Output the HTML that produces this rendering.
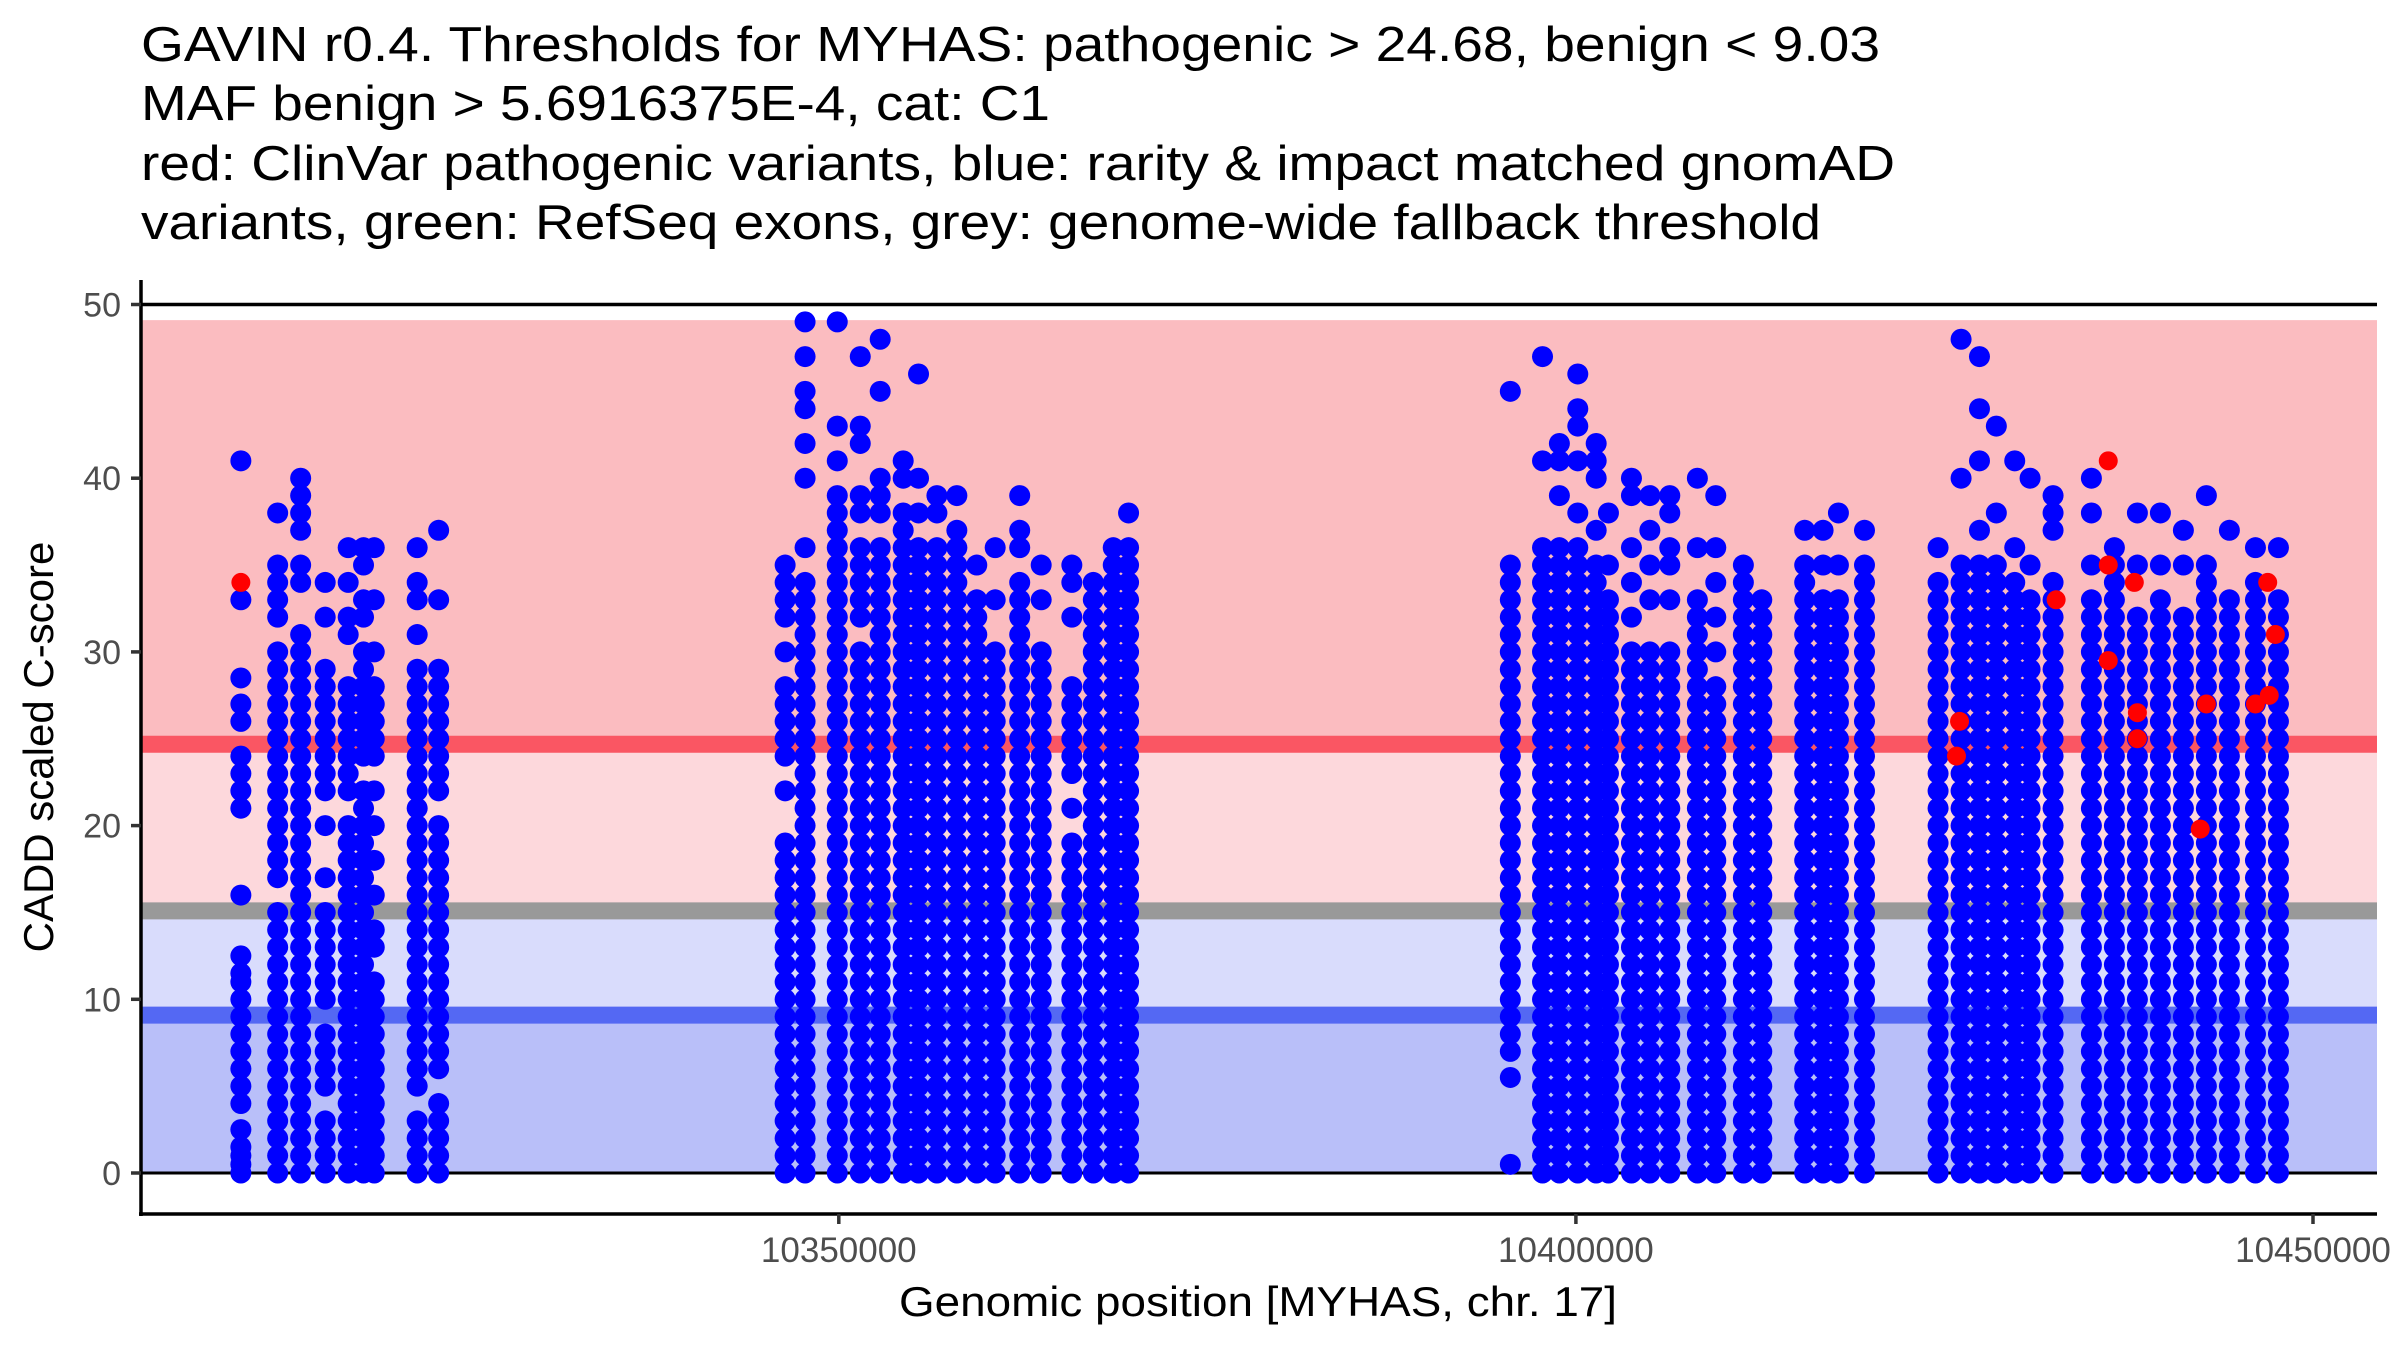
<!DOCTYPE html>
<html><head><meta charset="utf-8"><style>
html,body{margin:0;padding:0;background:#fff;}
svg{display:block;font-family:"Liberation Sans",Arial,sans-serif;}
</style></head><body>
<svg id="chart" width="2400" height="1350" viewBox="0 0 2400 1350" xmlns="http://www.w3.org/2000/svg">
<g font-size="49" fill="#000">
<text x="141" y="61" textLength="1739" lengthAdjust="spacingAndGlyphs">GAVIN r0.4. Thresholds for MYHAS: pathogenic &gt; 24.68, benign &lt; 9.03</text>
<text x="141" y="120" textLength="909" lengthAdjust="spacingAndGlyphs">MAF benign &gt; 5.6916375E-4, cat: C1</text>
<text x="141" y="180" textLength="1754" lengthAdjust="spacingAndGlyphs">red: ClinVar pathogenic variants, blue: rarity &amp; impact matched gnomAD</text>
<text x="141" y="239" textLength="1680" lengthAdjust="spacingAndGlyphs">variants, green: RefSeq exons, grey: genome-wide fallback threshold</text>
</g>
<g id="bands"></g>
<g id="points"></g>
<g id="axes"></g>
<text x="1258" y="1316" font-size="42" text-anchor="middle" textLength="718" lengthAdjust="spacingAndGlyphs">Genomic position [MYHAS, chr. 17]</text>
<text transform="translate(53,747) rotate(-90)" font-size="42" text-anchor="middle">CADD scaled C-score</text>
</svg>
<script>
const NS="http://www.w3.org/2000/svg";
const yTicks=[0,10,20,30,40,50];
const xTicks=[10350000,10400000,10450000];
const thresholds={pathogenic:24.68,fallback:15.09,benign:9.09,maxScore:49.1};
const bluePositions=[10309440,10311936,10313496,10315160,10316720,10317760,10318488,10321400,10322856,
10346360,10347712,10349896,10351456,10352808,10354368,10355408,10356656,10358008,10359360,10360608,10362272,10363728,10365808,10367264,10368616,10369656,
10395552,10397736,10398880,10400128,10401376,10402208,10403768,10405016,10406368,10408240,10409488,10411360,10412608,10415520,10416768,10417808,10419576,
10424568,10426128,10427376,10428520,10429768,10430808,10432368,10434968,10436528,10438088,10439648,10441208,10442768,10444328,10446096,10447656];
const blueScores=[
"0 0.5 1 1.5 2.5 4 5 6 7 8 9 10 11 11.5 12.5 16 21 22 23 24 26 27 28.5 33 41",
"0 1 2 3 4 5 6 7 8 9 10 11 12 13 14 15 17 18 19 20 21 22 23 24 25 26 27 28 29 30 32 33 34 35 38",
"0 1 2 3 4 5 6 7 8 9 10 11 12 13 14 15 16 17 18 19 20 21 22 23 24 25 26 27 28 29 30 31 34 35 37 38 39 40",
"0 1 2 3 5 6 7 8 10 11 12 13 14 15 17 20 22 23 24 25 26 27 28 29 32 34",
"0 1 2 3 4 5 6 7 8 9 10 11 12 13 14 15 16 17 18 19 20 22 23 24 25 26 27 28 31 32 34 36",
"0 1 2 3 4 5 6 7 8 9 10 11 12 13 14 15 16 17 18 19 20 21 22 24 25 26 27 28 29 30 32 33 35 36",
"0 1 2 3 4 5 6 7 8 9 10 11 13 14 16 18 20 22 24 25 26 27 28 30 33 36",
"0 1 2 3 5 6 7 8 9 10 11 12 13 14 15 16 17 18 19 20 21 22 23 24 25 26 27 28 29 31 33 34 36",
"0 1 2 3 4 6 7 8 9 10 11 12 13 14 15 16 17 18 19 20 22 23 24 25 26 27 28 29 33 37",
"0 1 2 3 4 5 6 7 8 9 10 11 12 13 14 15 16 17 18 19 22 24 25 26 27 28 30 32 33 34 35",
"0 1 2 3 4 5 6 7 8 9 10 11 12 13 14 15 16 17 18 19 20 21 22 23 24 25 26 27 28 29 30 31 32 33 34 36 40 42 44 45 47 49",
"0 1 2 3 4 5 6 7 8 9 10 11 12 13 14 15 16 17 18 19 20 21 22 23 24 25 26 27 28 29 30 31 32 33 34 35 36 37 38 39 41 43 49",
"0 1 2 3 4 5 6 7 8 9 10 11 12 13 14 15 16 17 18 19 20 21 22 23 24 25 26 27 28 29 30 32 33 34 35 36 38 39 42 43 47",
"0 1 2 3 4 5 6 7 8 9 10 11 12 13 14 15 16 17 18 19 20 21 22 23 24 25 26 27 28 29 30 31 32 33 34 35 36 38 39 40 45 48",
"0 1 2 3 4 5 6 7 8 9 10 11 12 13 14 15 16 17 18 19 20 21 22 23 24 25 26 27 28 29 30 31 32 33 34 35 36 37 38 40 41",
"0 1 2 3 4 5 6 7 8 9 10 11 12 13 14 15 16 17 18 19 20 21 22 23 24 25 26 27 28 29 30 31 32 33 34 35 36 38 40 46",
"0 1 2 3 4 5 6 7 8 9 10 11 12 13 14 15 16 17 18 19 20 21 22 23 24 25 26 27 28 29 30 31 32 33 34 35 36 38 39",
"0 1 2 3 4 5 6 7 8 9 10 11 12 13 14 15 16 17 18 19 20 21 22 23 24 25 26 27 28 29 30 31 32 33 34 35 36 37 39",
"0 1 2 3 4 5 6 7 8 9 10 11 12 13 14 15 16 17 18 19 20 21 22 23 24 25 26 27 28 29 30 31 32 33 35",
"0 1 2 3 4 5 6 7 8 9 10 11 12 13 14 15 16 17 18 19 20 21 22 23 24 25 26 27 28 29 30 33 36",
"0 1 2 3 4 5 6 7 8 9 10 11 12 13 14 15 16 17 18 19 20 21 22 23 24 25 26 27 28 29 30 31 32 33 34 36 37 39",
"0 1 2 3 4 5 6 7 8 9 10 11 12 13 14 15 16 17 18 19 20 21 22 23 24 25 26 27 28 29 30 33 35",
"0 1 2 3 4 5 6 7 8 9 10 11 12 13 14 15 16 17 18 19 21 23 24 25 26 27 28 32 34 35",
"0 1 2 3 4 5 6 7 8 9 10 11 12 13 14 15 16 17 18 19 20 21 22 23 24 25 26 27 28 29 30 31 32 33 34",
"0 1 2 3 4 5 6 7 8 9 10 11 12 13 14 15 16 17 18 19 20 21 22 23 24 25 26 27 28 29 30 31 32 33 34 35 36",
"0 1 2 3 4 5 6 7 8 9 10 11 12 13 14 15 16 17 18 19 20 21 22 23 24 25 26 27 28 29 30 31 32 33 34 35 36 38",
"0.5 5.5 7 8 9 10 11 12 13 14 15 16 17 18 19 20 21 22 23 24 25 26 27 28 29 30 31 32 33 34 35 45",
"0 1 2 3 4 5 6 7 8 9 10 11 12 13 14 15 16 17 18 19 20 21 22 23 24 25 26 27 28 29 30 31 32 33 34 35 36 41 47",
"0 1 2 3 4 5 6 7 8 9 10 11 12 13 14 15 16 17 18 19 20 21 22 23 24 25 26 27 28 29 30 31 32 33 34 35 36 39 41 42",
"0 1 2 3 4 5 6 7 8 9 10 11 12 13 14 15 16 17 18 19 20 21 22 23 24 25 26 27 28 29 30 31 32 33 34 35 36 38 41 43 44 46",
"0 1 2 3 4 5 6 7 8 9 10 11 12 13 14 15 16 17 18 19 20 21 22 23 24 25 26 27 28 29 30 31 32 33 34 35 37 40 41 42",
"0 1 2 3 4 5 6 7 8 9 10 11 12 13 14 15 16 17 18 19 20 21 22 23 24 25 26 27 28 29 30 31 32 33 35 38",
"0 1 2 3 4 5 6 7 8 9 10 11 12 13 14 15 16 17 18 19 20 21 22 23 24 25 26 27 28 29 30 32 34 36 39 40",
"0 1 2 3 4 5 6 7 8 9 10 11 12 13 14 15 16 17 18 19 20 21 22 23 24 25 26 27 28 29 30 33 35 37 39",
"0 1 2 3 4 5 6 7 8 9 10 11 12 13 14 15 16 17 18 19 20 21 22 23 24 25 26 27 28 29 30 33 35 36 38 39",
"0 1 2 3 4 5 6 7 8 9 10 11 12 13 14 15 16 17 18 19 20 21 22 23 24 25 26 27 28 29 30 31 32 33 36 40",
"0 1 2 3 4 5 6 7 8 9 10 11 12 13 14 15 16 17 18 19 20 21 22 23 24 25 26 27 28 30 32 34 36 39",
"0 1 2 3 4 5 6 7 8 9 10 11 12 13 14 15 16 17 18 19 20 21 22 23 24 25 26 27 28 29 30 31 32 33 34 35",
"0 1 2 3 4 5 6 7 8 9 10 11 12 13 14 15 16 17 18 19 20 21 22 23 24 25 26 27 28 29 30 31 32 33",
"0 1 2 3 4 5 6 7 8 9 10 11 12 13 14 15 16 17 18 19 20 21 22 23 24 25 26 27 28 29 30 31 32 33 34 35 37",
"0 1 2 3 4 5 6 7 8 9 10 11 12 13 14 15 16 17 18 19 20 21 22 23 24 25 26 27 28 29 30 31 32 33 35 37",
"0 1 2 3 4 5 6 7 8 9 10 11 12 13 14 15 16 17 18 19 20 21 22 23 24 25 26 27 28 29 30 31 32 33 35 38",
"0 1 2 3 4 5 6 7 8 9 10 11 12 13 14 15 16 17 18 19 20 21 22 23 24 25 26 27 28 29 30 31 32 33 34 35 37",
"0 1 2 3 4 5 6 7 8 9 10 11 12 13 14 15 16 17 18 19 20 21 22 23 24 25 26 27 28 29 30 31 32 33 34 36",
"0 1 2 3 4 5 6 7 8 9 10 11 12 13 14 15 16 17 18 19 20 21 22 23 24 25 26 27 28 29 30 31 32 33 34 35 40 48",
"0 1 2 3 4 5 6 7 8 9 10 11 12 13 14 15 16 17 18 19 20 21 22 23 24 25 26 27 28 29 30 31 32 33 34 35 37 41 44 47",
"0 1 2 3 4 5 6 7 8 9 10 11 12 13 14 15 16 17 18 19 20 21 22 23 24 25 26 27 28 29 30 31 32 33 34 35 38 43",
"0 1 2 3 4 5 6 7 8 9 10 11 12 13 14 15 16 17 18 19 20 21 22 23 24 25 26 27 28 29 30 31 32 33 34 36 41",
"0 1 2 3 4 5 6 7 8 9 10 11 12 13 14 15 16 17 18 19 20 21 22 23 24 25 26 27 28 29 30 31 32 33 35 40",
"0 1 2 3 4 5 6 7 8 9 10 11 12 13 14 15 16 17 18 19 20 21 22 23 24 25 26 27 28 29 30 31 32 33 34 37 38 39",
"0 1 2 3 4 5 6 7 8 9 10 11 12 13 14 15 16 17 18 19 20 21 22 23 24 25 26 27 28 29 30 31 32 33 35 38 40",
"0 1 2 3 4 5 6 7 8 9 10 11 12 13 14 15 16 17 18 19 20 21 22 23 24 25 26 27 28 29 30 31 32 33 34 35 36",
"0 1 2 3 4 5 6 7 8 9 10 11 12 13 14 15 16 17 18 19 20 21 22 23 24 25 26 27 28 29 30 31 32 35 38",
"0 1 2 3 4 5 6 7 8 9 10 11 12 13 14 15 16 17 18 19 20 21 22 23 24 25 26 27 28 29 30 31 32 33 35 38",
"0 1 2 3 4 5 6 7 8 9 10 11 12 13 14 15 16 17 18 19 20 21 22 23 24 25 26 27 28 29 30 31 32 35 37",
"0 1 2 3 4 5 6 7 8 9 10 11 12 13 14 15 16 17 18 19 20 21 22 23 24 25 26 27 28 29 30 31 32 33 34 35 39",
"0 1 2 3 4 5 6 7 8 9 10 11 12 13 14 15 16 17 18 19 20 21 22 23 24 25 26 27 28 29 30 31 32 33 37",
"0 1 2 3 4 5 6 7 8 9 10 11 12 13 14 15 16 17 18 19 20 21 22 23 24 25 26 27 28 29 30 31 32 33 34 36",
"0 1 2 3 4 5 6 7 8 9 10 11 12 13 14 15 16 17 18 19 20 21 22 23 24 25 26 27 28 29 30 31 32 33 36"];
const redPositions=[10309440,10426024,10425816,10432576,10436112,10436112,10436112,10437880,10438088,10438088,10442352,10442768,10446096,10446928,10447448,10447032];
const redScores=[34,26,24,33,41,35,29.5,34,26.5,25,19.8,27,27,34,31,27.5];

const X0=838.8, XS=0.014742, Y0=1173, YS=17.37;
const PL=141, PR=2377, PT=280, PB=1214;
function xs(p){return X0+(p-10350000)*XS;}
function ys(v){return Y0-v*YS;}
function mk(tag,attrs,parent){const e=document.createElementNS(NS,tag);for(const k in attrs)e.setAttribute(k,attrs[k]);parent.appendChild(e);return e;}

const bands=document.getElementById('bands');
let r;
r=mk('rect',{x:PL,y:ys(thresholds.maxScore),width:PR-PL,height:ys(thresholds.pathogenic)-ys(thresholds.maxScore),fill:'#fbbcc0'},bands);


r=mk('rect',{x:PL,y:ys(thresholds.pathogenic),width:PR-PL,height:ys(thresholds.fallback)-ys(thresholds.pathogenic),fill:'#fdd8dc'},bands);


r=mk('rect',{x:PL,y:ys(thresholds.fallback),width:PR-PL,height:ys(thresholds.benign)-ys(thresholds.fallback),fill:'#d9dcfc'},bands);


r=mk('rect',{x:PL,y:ys(thresholds.benign),width:PR-PL,height:ys(0)-ys(thresholds.benign),fill:'#b9bff9'},bands);


r=mk('line',{x1:PL,x2:PR,y1:ys(thresholds.pathogenic),y2:ys(thresholds.pathogenic),stroke:'#fa5663','stroke-width':17},bands);


r=mk('line',{x1:PL,x2:PR,y1:ys(thresholds.fallback),y2:ys(thresholds.fallback),stroke:'#999999','stroke-width':17},bands);


r=mk('line',{x1:PL,x2:PR,y1:ys(thresholds.benign),y2:ys(thresholds.benign),stroke:'#5468f3','stroke-width':17},bands);


r=mk('line',{x1:PL,x2:PR,y1:ys(0),y2:ys(0),stroke:'#000','stroke-width':3},bands);


r=mk('line',{x1:PL,x2:PR,y1:ys(50),y2:ys(50),stroke:'#000','stroke-width':3.5},bands);



const pts=document.getElementById('points');
for(let i=0;i<bluePositions.length;i++){
  const vals=blueScores[i].split(' ').map(Number);
  for(const v of vals){
    const c=mk('circle',{cx:xs(bluePositions[i]),cy:ys(v),r:10.5,fill:'#0000ff'},pts);
    
    
  }
}
for(let i=0;i<redPositions.length;i++){
  const c=mk('circle',{cx:xs(redPositions[i]),cy:ys(redScores[i]),r:9.5,fill:'#ff0000'},pts);
  
  
}

const ax=document.getElementById('axes');
r=mk('line',{x1:PL,x2:PL,y1:PT,y2:PB+2,stroke:'#000','stroke-width':3.5},ax);


r=mk('line',{x1:PL-2,x2:PR,y1:PB,y2:PB,stroke:'#000','stroke-width':3.5},ax);


for(const t of yTicks){
  const l=mk('line',{x1:PL-10,x2:PL,y1:ys(t),y2:ys(t),stroke:'#333','stroke-width':3.5},ax);
  
  
  const tx=mk('text',{x:PL-20,y:ys(t)+12,'font-size':34,'text-anchor':'end',fill:'#4d4d4d'},ax);
  tx.textContent=String(t);
  
  
}
for(const t of xTicks){
  const l=mk('line',{x1:xs(t),x2:xs(t),y1:PB,y2:PB+10,stroke:'#333','stroke-width':3.5},ax);
  
  
  const tx=mk('text',{x:xs(t),y:1262,'font-size':35,'text-anchor':'middle',fill:'#4d4d4d'},ax);
  tx.textContent=String(t);
  
  
}
</script>
</body></html>
